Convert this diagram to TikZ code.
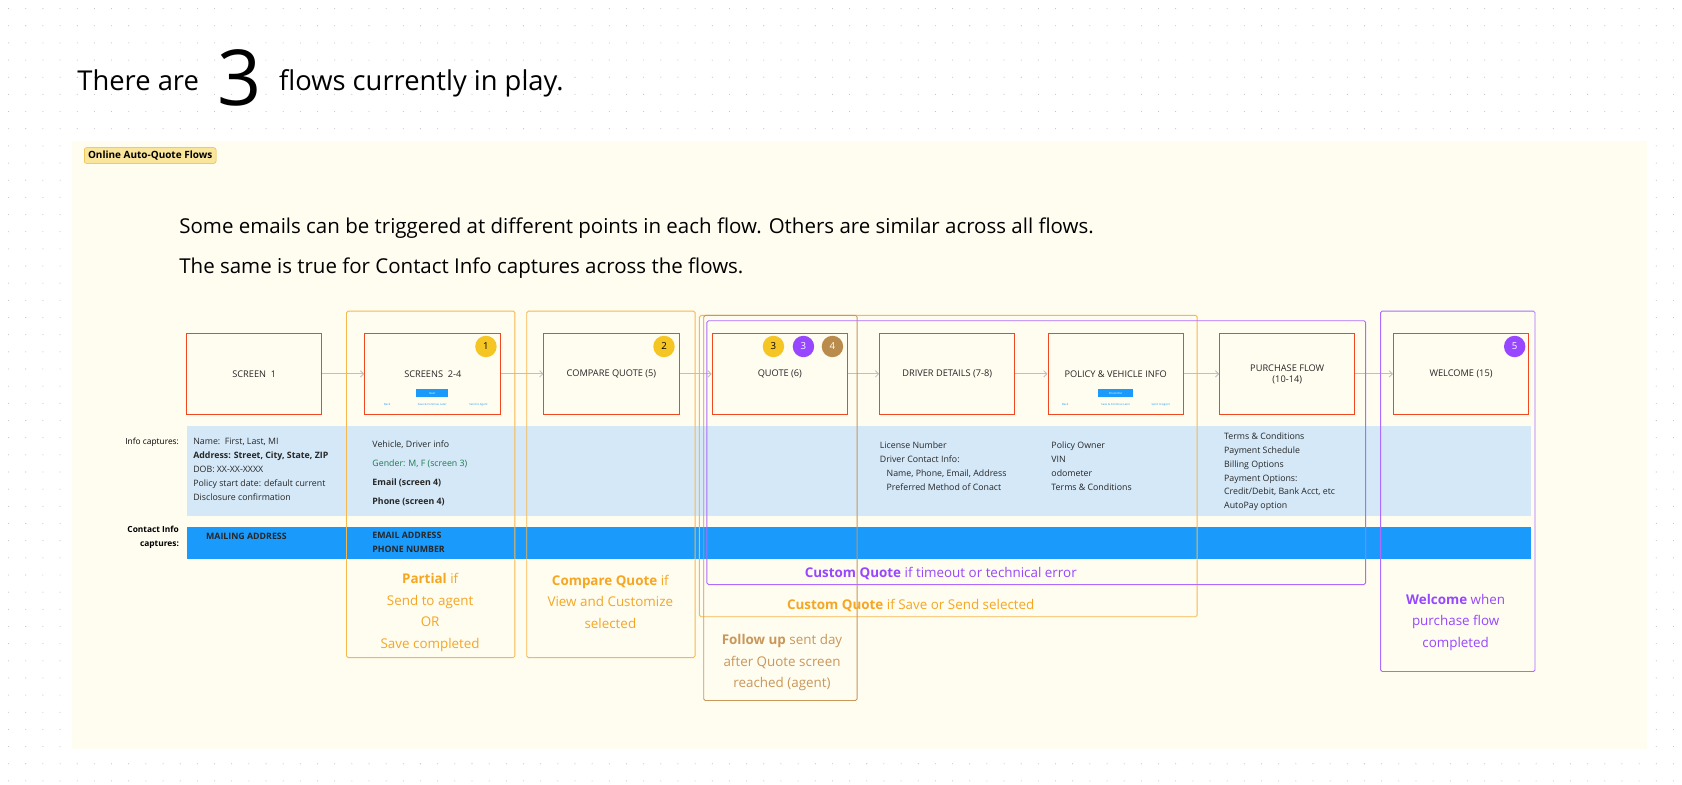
\documentclass[tikz,border=0pt]{standalone}
\usepackage{fontspec}
\setmainfont{Open Sans}
\usetikzlibrary{arrows.meta}
\definecolor{panel}{HTML}{FFFCF0}
\definecolor{scr}{HTML}{F24822}
\definecolor{band}{HTML}{D4E8F8}
\definecolor{cband}{HTML}{1A9BFB}
\definecolor{org}{HTML}{F5A623}
\definecolor{pur}{HTML}{9747FF}
\definecolor{brn}{HTML}{C9975A}
\definecolor{byel}{HTML}{F5C524}
\definecolor{bbrn}{HTML}{B98C4E}
\definecolor{grn}{HTML}{1E7A4A}
\definecolor{linkc}{HTML}{1A9BFB}
\begin{document}
\begin{tikzpicture}[x=1pt,y=-1pt,
  screen/.style={draw=scr,line width=0.9pt,fill=panel},
  lbl/.style={font=\fontsize{8.6}{10}\selectfont,text=black!85},
  info/.style={font=\fontsize{8.2}{13}\selectfont,anchor=north west,align=left,text=black!85,inner sep=0},
  badge/.style={circle,minimum size=20pt,inner sep=0,font=\fontsize{9}{10}\selectfont},
  flowbox/.style={line width=0.8pt,rounded corners=1.5pt},
  note/.style={font=\fontsize{12.5}{20}\selectfont,align=center},
  arr/.style={draw=black!25,line width=0.8pt,-{Straight Barb[length=3pt]}},
  mini/.style={font=\fontsize{2.6}{3}\selectfont,text=linkc,inner sep=0}]
\useasboundingbox (0,0) rectangle (1568,731);
\fill[white] (0,0) rectangle (1568,731);
\foreach \i in {0,...,97}{\foreach \j in {0,...,45}{\fill[black!25] (8+\i*16,8+\j*16) circle (0.5pt);}}
\fill[panel] (67,131) rectangle (1535,698);
% title
\node[anchor=base west,inner sep=0,font=\fontsize{25.5}{30}\selectfont] (t1) at (72,84) {There are};
\node[anchor=base west,inner sep=0,font=\fontsize{72}{80}\selectfont] (t2) at (203,98) {3};
\node[anchor=base west,inner sep=0,font=\fontsize{25.5}{30}\selectfont] (t3) at (260,84) {flows currently in play.};
\node[draw=byel!80!brown,fill=byel!45,rounded corners=2pt,inner xsep=3.5pt,inner ysep=3pt,font=\fontsize{9.3}{10}\selectfont\bfseries] (tag) at (140,145) {Online Auto-Quote Flows};
\node[anchor=base west,inner sep=0,font=\fontsize{19.1}{22}\selectfont] (s1) at (167,218) {Some emails can be triggered at different points in each flow. Others are similar across all flows.};
\node[anchor=base west,inner sep=0,font=\fontsize{19.1}{22}\selectfont] (s2) at (167,255) {The same is true for Contact Info captures across the flows.};
% bands
\fill[band] (174,397) rectangle (1427,481);
\fill[cband] (174,491) rectangle (1427,521);
\node[anchor=north east,inner sep=0,font=\fontsize{7.8}{11}\selectfont,align=right] (l1) at (167,408) {Info captures:};
\node[anchor=north east,inner sep=0,font=\fontsize{7.8}{13}\selectfont\bfseries,align=right] (l2) at (167,490) {Contact Info\\captures:};
% screens
\node[screen,minimum width=126pt,minimum height=75pt] (a) at (237,348.5) {};
\node[screen,minimum width=127pt,minimum height=75pt] (b) at (403.5,348.5) {};
\node[screen,minimum width=126pt,minimum height=75pt] (c) at (570,348.5) {};
\node[screen,minimum width=126pt,minimum height=75pt] (d) at (727,348.5) {};
\node[screen,minimum width=126pt,minimum height=75pt] (e) at (883,348.5) {};
\node[screen,minimum width=126pt,minimum height=75pt] (f) at (1040,348.5) {};
\node[screen,minimum width=126pt,minimum height=75pt] (g) at (1200,348.5) {};
\node[screen,minimum width=126pt,minimum height=75pt] (h) at (1362,348.5) {};
\foreach \p/\q in {a/b,b/c,c/d,d/e,e/f,f/g,g/h}{\draw[arr] (\p) -- (\q);}
\node[lbl] at (a) {SCREEN\ \ 1};
\node[lbl] at (403.5,349) {SCREENS\ \ 2-4};
\node[lbl] at (c) {COMPARE QUOTE (5)};
\node[lbl] at (d) {QUOTE (6)};
\node[lbl] at (e) {DRIVER DETAILS (7-8)};
\node[lbl] at (f) {POLICY \& VEHICLE INFO};
\node[lbl,align=center] at (1200,349) {PURCHASE FLOW\\(10-14)};
\node[lbl] at (h) {WELCOME (15)};
% mini buttons
\node[fill=linkc,minimum width=30pt,minimum height=7pt,inner sep=0,font=\fontsize{2.6}{3}\selectfont,text=white] (bn) at (403,366.5) {Next};
\node[mini] (b1) at (361,377) {Back};
\node[mini] (b2) at (403,377) {Save \& Continue Later};
\node[mini] (b3) at (446,377) {Send to Agent};
\node[fill=linkc,minimum width=32pt,minimum height=7pt,inner sep=0,font=\fontsize{2.6}{3}\selectfont,text=white] (cn) at (1040,366.5) {Check Out};
\node[mini] (c1) at (993,377) {Back};
\node[mini] (c2) at (1040,377) {Save \& Continue Later};
\node[mini] (c3) at (1082,377) {Send to Agent};
% info text
\node[info] (i1) at (180,408) {Name:\ \ First, Last, MI\\\textbf{Address: Street, City, State, ZIP}\\DOB: XX-XX-XXXX\\Policy start date: default current\\Disclosure confirmation};
\node[info,font=\fontsize{8.2}{17.5}\selectfont] (i2) at (347,411) {Vehicle, Driver info\\\textcolor{grn}{Gender: M, F (screen 3)}\\\textbf{Email (screen 4)}\\\textbf{Phone (screen 4)}};
\node[info] (i3) at (820,412) {License Number\\Driver Contact Info:\\\ \ \ Name, Phone, Email, Address\\\ \ \ Preferred Method of Conact};
\node[info] (i4) at (980,412) {Policy Owner\\VIN\\odometer\\Terms \& Conditions};
\node[info] (i5) at (1141,403) {Terms \& Conditions\\Payment Schedule\\Billing Options\\Payment Options:\\Credit/Debit, Bank Acct, etc\\AutoPay option};
\node[info,font=\fontsize{8.2}{13}\selectfont\bfseries] (k1) at (192,497) {MAILING ADDRESS};
\node[info,font=\fontsize{8.2}{13}\selectfont\bfseries] (k2) at (347,496) {EMAIL ADDRESS\\PHONE NUMBER};
% flow boxes
\draw[flowbox,draw=org!80] (323,290) rectangle (480,613);
\draw[flowbox,draw=org!80] (491,290) rectangle (648,613);
\draw[flowbox,draw=org!80] (652,294) rectangle (1116,575);
\draw[flowbox,draw=brn] (656,294) rectangle (799,653);
\draw[flowbox,draw=pur!80] (659,299) rectangle (1273,545);
\draw[flowbox,draw=pur!80] (1287,290) rectangle (1431,626);
% badges
\node[badge,fill=byel] (n1) at (453,323) {1};
\node[badge,fill=byel] (n2) at (619,323) {2};
\node[badge,fill=byel] (n3) at (721,323) {3};
\node[badge,fill=pur,text=white] (n4) at (749,323) {3};
\node[badge,fill=bbrn,text=white] (n5) at (776,323) {4};
\node[badge,fill=pur,text=white] (n6) at (1412,323) {5};
% notes
\node[note,text=org] (p1) at (401,571) {\textbf{Partial} if\\Send to agent\\OR\\Save completed};
\node[note,text=org] (p2) at (569,561) {\textbf{Compare Quote} if\\View and Customize\\selected};
\node[note,text=pur] (p3) at (877,535) {\textbf{Custom Quote} if timeout or technical error};
\node[note,text=org] (p4) at (849,564) {\textbf{Custom Quote} if Save or Send selected};
\node[note,text=brn] (p5) at (729,618) {\textbf{Follow up} sent day\\after Quote screen\\reached (agent)};
\node[note,text=pur] (p6) at (1357,580) {\textbf{Welcome} when\\purchase flow\\completed};
\end{tikzpicture}
\end{document}
